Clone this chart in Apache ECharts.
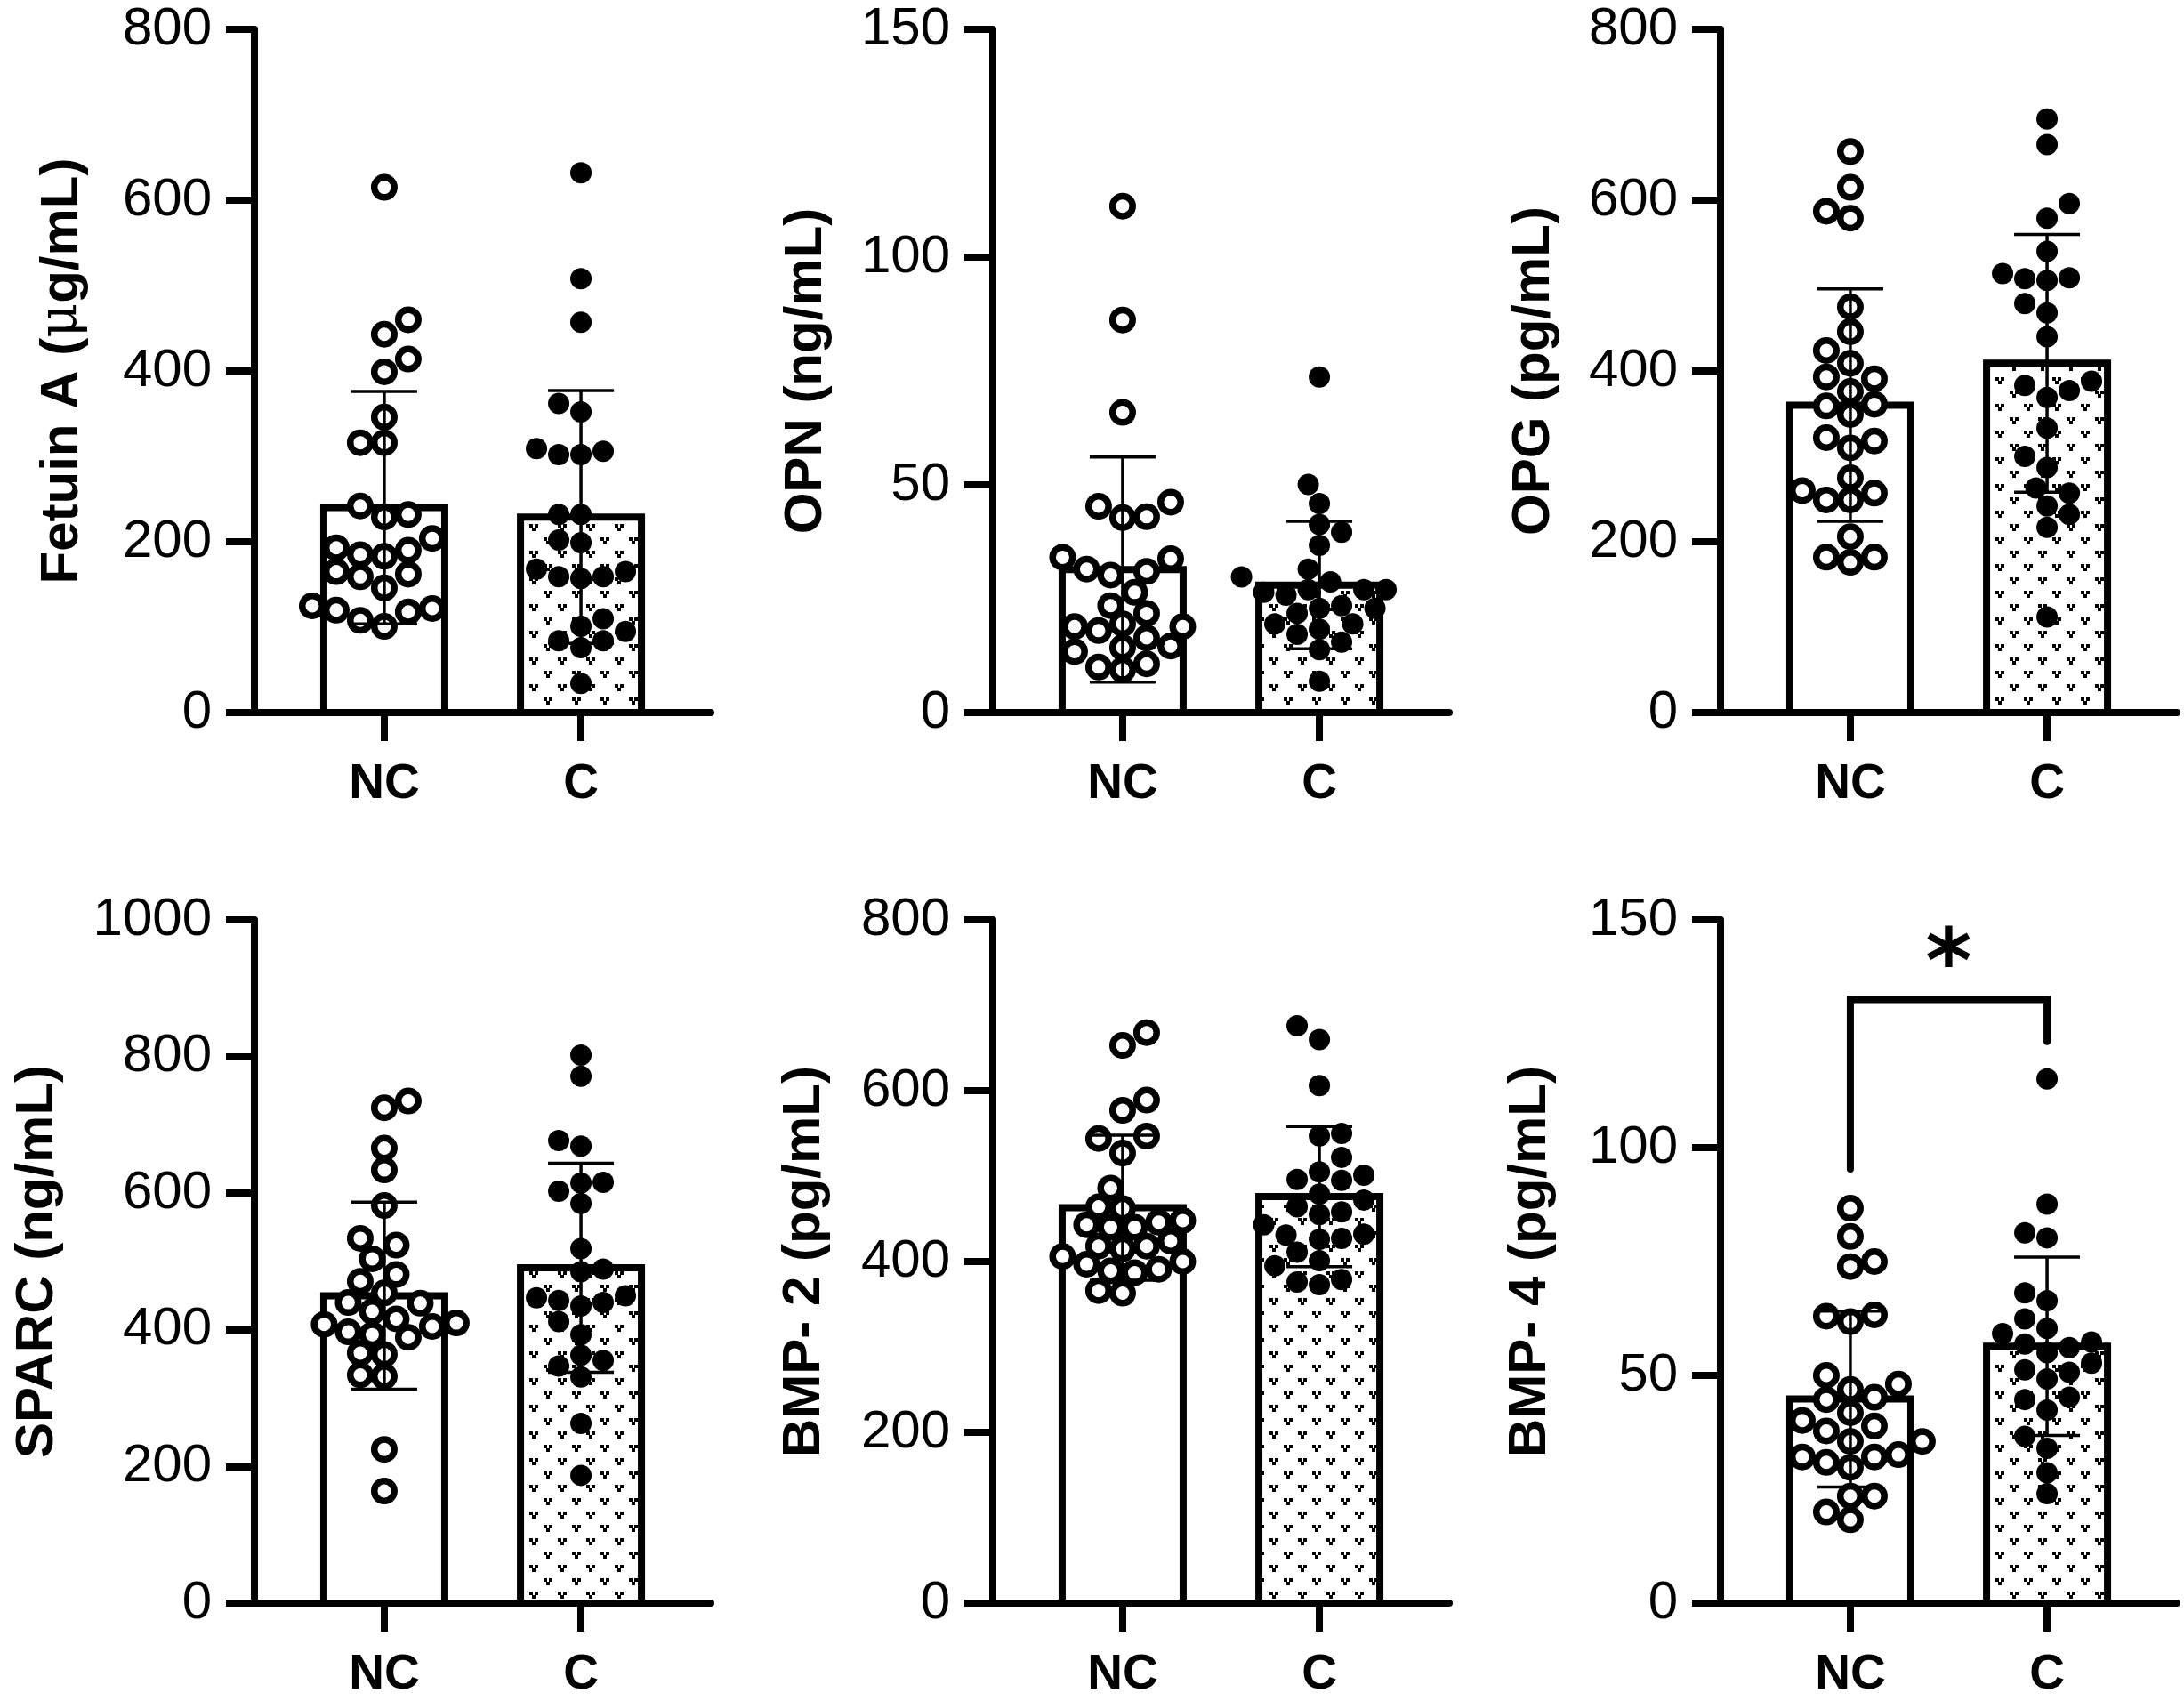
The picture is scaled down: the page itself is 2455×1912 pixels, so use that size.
<!DOCTYPE html>
<html>
<head>
<meta charset="utf-8">
<script src="https://cdn.jsdelivr.net/npm/echarts@6/dist/echarts.min.js"></script>
<style>
html,body{margin:0;padding:0;background:#fff;}
#chart{width:2455px;height:1912px;}
</style>
</head>
<body>
<div id="chart"></div>
<script>
// ---------- data ----------
const groups = ['NC', 'C'];

const fetuinNC = [615, 460, 443, 414, 399, 346, 316, 316, 242, 229, 232, 204, 183, 185, 193, 190, 159, 162, 165, 146, 125, 122, 118, 120, 108, 101];
const fetuinC  = [632, 508, 457, 362, 352, 302, 306, 309, 302, 232, 232, 199, 202, 159, 159, 165, 168, 157, 110, 101, 95, 84, 84, 76, 34];
const fetuinMean = [240, 229];
const fetuinSD   = [136, 148];

const opnNC = [111.2, 86.2, 65.9, 46.2, 45.3, 42.8, 43.0, 33.8, 34.1, 31.0, 30.2, 31.5, 26.4, 23.5, 21.8, 18.0, 18.9, 19.5, 18.9, 16.4, 13.4, 14.3, 14.6, 9.4, 10.7, 10.0];
const opnC  = [73.7, 50.1, 45.9, 41.3, 39.6, 36.7, 31.5, 29.8, 28.7, 27.0, 27.0, 27.0, 26.4, 25.8, 22.9, 23.5, 22.9, 21.8, 19.5, 19.5, 18.3, 17.2, 15.5, 13.8, 6.9];
const opnMean = [31.4, 28.0];
const opnSD   = [24.7, 14.0];

const opgNC = [657, 615, 579, 587, 475, 446, 424, 409, 391, 393, 376, 359, 361, 349, 322, 318, 310, 275, 257, 260, 249, 249, 206, 176, 182, 182];
const opgC  = [695, 665, 596, 579, 540, 509, 506, 508, 514, 479, 468, 440, 388, 383, 377, 369, 333, 300, 287, 263, 257, 232, 242, 217, 112];
const opgMean = [360, 409];
const opgSD   = [136, 151];

const sparcNC = [735, 725, 666, 634, 582, 534, 524, 504, 481, 471, 454, 439, 440, 427, 410, 416, 405, 408, 389, 393, 397, 364, 366, 332, 334, 225, 164];
const sparcC  = [802, 771, 677, 669, 615, 616, 603, 585, 519, 485, 489, 440, 443, 447, 450, 435, 412, 393, 347, 355, 363, 331, 263, 187];
const sparcMean = [450, 491];
const sparcSD   = [137, 153];

const bmp2NC = [668, 653, 589, 577, 547, 544, 527, 486, 464, 462, 440, 440, 443, 446, 448, 418, 415, 406, 418, 424, 400, 397, 389, 387, 391, 366, 363];
const bmp2C  = [676, 660, 606, 547, 550, 522, 505, 495, 496, 501, 479, 472, 464, 458, 455, 432, 427, 431, 443, 426, 401, 411, 395, 376, 379, 373];
const bmp2Mean = [463, 476];
const bmp2SD   = [85, 82];

const bmp4NC = [86.7, 80.5, 73.9, 75.0, 63.0, 63.3, 61.8, 50.0, 46.9, 48.1, 44.7, 45.2, 41.8, 40.1, 38.9, 37.8, 35.5, 35.5, 32.1, 32.6, 32.1, 29.8, 30.9, 23.5, 23.5, 18.3, 20.0];
const bmp4C  = [115.1, 87.6, 81.3, 80.2, 68.1, 66.4, 62.4, 60.3, 59.2, 57.3, 56.9, 56.1, 55.0, 52.7, 51.2, 50.7, 49.2, 44.7, 45.2, 42.4, 36.6, 34.0, 28.6, 24.0];
const bmp4Mean = [44.8, 56.4];
const bmp4SD   = [19.3, 19.6];

// significance bracket (BMP-4), in data units
const bracketNCEnd = 95.3;
const bracketTop = 132.5;
const bracketCEnd = 123.3;
const starLevel = 143.2;
const starText = '*';

const yTitles = ['Fetuin A ({mu|μ}g/mL)', 'OPN (ng/mL)', 'OPG (pg/mL)', 'SPARC (ng/mL)', 'BMP- 2 (pg/mL)', 'BMP- 4 (pg/mL)'];
const yMax = [800, 150, 800, 1000, 800, 150];
const yStep = [200, 50, 200, 200, 200, 50];

// ---------- layout ----------
const FONT = 'Liberation Sans, Arial, sans-serif';
const gridLefts = [286, 1116, 1934];
const gridTops = [33, 1034];
const gridW = 513, gridH = 768;
const xMin = -0.66, xMax = 1.66;
const barW = 136;

const panels = [
  {nc: fetuinNC, c: fetuinC, mean: fetuinMean, sd: fetuinSD, gap: 186},
  {nc: opnNC, c: opnC, mean: opnMean, sd: opnSD, gap: 180},
  {nc: opgNC, c: opgC, mean: opgMean, sd: opgSD, gap: 180},
  {nc: sparcNC, c: sparcC, mean: sparcMean, sd: sparcSD, gap: 214},
  {nc: bmp2NC, c: bmp2C, mean: bmp2Mean, sd: bmp2SD, gap: 182},
  {nc: bmp4NC, c: bmp4C, mean: bmp4Mean, sd: bmp4SD, gap: 184}
];

// dotted "v" fill pattern
function makePattern() {
  const cv = document.createElement('canvas');
  cv.width = 32; cv.height = 30;
  const g = cv.getContext('2d');
  g.fillStyle = '#fff'; g.fillRect(0, 0, 32, 30);
  g.fillStyle = '#000';
  function mark(cx, cy) {
    g.fillRect(cx - 5, cy - 4, 4, 4);
    g.fillRect(cx + 1, cy - 4, 4, 4);
    g.fillRect(cx - 2, cy, 4, 4);
  }
  mark(8, 8); mark(24, 23);
  return cv;
}
const patternCanvas = makePattern();

// simple beeswarm: spreads points horizontally so they don't overlap (pixel space)
function swarm(values, pxPerY, pxPerX, D) {
  const order = values.map((v, i) => i).sort((a, b) => values[a] - values[b]);
  const placed = [];
  const offs = new Array(values.length).fill(0);
  const step = D / 2;
  order.forEach((i, rank) => {
    const y = values[i] * pxPerY;
    const side = rank % 2 === 0 ? 1 : -1;
    for (let k = 0; k < 40; k++) {
      const m = k === 0 ? 0 : (k % 2 === 1 ? side * (k + 1) / 2 : -side * k / 2);
      const x = m * step;
      let ok = true;
      for (const p of placed) {
        const dx = x - p[0], dy = y - p[1];
        if (dx * dx + dy * dy < D * D * 0.8) { ok = false; break; }
      }
      if (ok) { placed.push([x, y]); offs[i] = x / pxPerX; break; }
    }
  });
  return offs;
}

const grids = [], xAxes = [], yAxes = [], series = [];
const pxPerX = gridW / (xMax - xMin);

panels.forEach((p, i) => {
  const col = i % 3, row = Math.floor(i / 3);
  grids.push({left: gridLefts[col], top: gridTops[row], width: gridW, height: gridH, containLabel: false});
  xAxes.push({
    type: 'value', gridIndex: i, min: xMin, max: xMax,
    splitLine: {show: false},
    axisLine: {show: true, onZero: false, lineStyle: {color: '#000', width: 8}},
    axisTick: {show: true, length: 32, lineStyle: {color: '#000', width: 8}, customValues: [0, 1]},
    axisLabel: {
      show: true, customValues: [0, 1], margin: 53,
      formatter: v => groups[Math.round(v)],
      color: '#000', fontFamily: FONT, fontWeight: 'bold', fontSize: 55
    }
  });
  yAxes.push({
    type: 'value', gridIndex: i, min: 0, max: yMax[i], interval: yStep[i],
    name: yTitles[i], nameLocation: 'middle', nameGap: p.gap, nameRotate: 90,
    nameTextStyle: {
      color: '#000', fontFamily: FONT, fontWeight: 'bold', fontSize: 60,
      rich: {mu: {fontFamily: 'DejaVu Serif, serif', fontWeight: 'normal', fontSize: 60, color: '#000'}}
    },
    splitLine: {show: false},
    axisLine: {show: true, onZero: false, lineStyle: {color: '#000', width: 8}},
    axisTick: {show: true, length: 32, lineStyle: {color: '#000', width: 8}},
    axisLabel: {color: '#000', fontFamily: FONT, fontSize: 60, margin: 48, formatter: v => String(v)}
  });

  const pxPerY = gridH / yMax[i];
  const offNC = swarm(p.nc, pxPerY, pxPerX, 27);
  const offC = swarm(p.c, pxPerY, pxPerX, 25);

  // bars
  series.push({
    type: 'custom', xAxisIndex: i, yAxisIndex: i, z: 1, silent: true,
    data: p.mean.map((m, g) => [g, m]),
    renderItem: (params, api) => {
      const g = api.value(0), m = api.value(1);
      const p0 = api.coord([g, 0]), p1 = api.coord([g, m]);
      return {
        type: 'rect',
        shape: {x: p0[0] - barW / 2, y: p1[1], width: barW, height: p0[1] - p1[1]},
        style: {
          fill: g === 0 ? '#fff' : {image: patternCanvas, repeat: 'repeat'},
          stroke: '#000', lineWidth: 8
        }
      };
    }
  });
  // open circles (NC)
  series.push({
    type: 'scatter', xAxisIndex: i, yAxisIndex: i, z: 3, silent: true,
    symbol: 'circle', symbolSize: 22.5,
    itemStyle: {color: '#fff', borderColor: '#000', borderWidth: 7.5, opacity: 1},
    data: p.nc.map((v, k) => [0 + offNC[k], v])
  });
  // filled circles (C)
  series.push({
    type: 'scatter', xAxisIndex: i, yAxisIndex: i, z: 3, silent: true,
    symbol: 'circle', symbolSize: 24,
    itemStyle: {color: '#000', opacity: 1},
    data: p.c.map((v, k) => [1 + offC[k], v])
  });
  // error bars (mean ± SD)
  series.push({
    type: 'custom', xAxisIndex: i, yAxisIndex: i, z: 4, silent: true,
    data: p.mean.map((m, g) => [g, m, p.sd[g]]),
    renderItem: (params, api) => {
      const g = api.value(0), m = api.value(1), s = api.value(2);
      const hi = api.coord([g, m + s]), lo = api.coord([g, m - s]);
      const cap = 37;
      const st = {stroke: '#000', lineWidth: 3.5};
      return {
        type: 'group',
        children: [
          {type: 'line', shape: {x1: hi[0], y1: hi[1], x2: lo[0], y2: lo[1]}, style: st},
          {type: 'line', shape: {x1: hi[0] - cap, y1: hi[1], x2: hi[0] + cap, y2: hi[1]}, style: st},
          {type: 'line', shape: {x1: lo[0] - cap, y1: lo[1], x2: lo[0] + cap, y2: lo[1]}, style: st}
        ]
      };
    }
  });
});

// significance bracket on BMP-4 panel
series.push({
  type: 'line', xAxisIndex: 5, yAxisIndex: 5, z: 5, silent: true,
  symbol: 'none', animation: false,
  lineStyle: {color: '#000', width: 8, cap: 'round', join: 'miter'},
  data: [[0, bracketNCEnd], [0, bracketTop], [1, bracketTop], [1, bracketCEnd]]
});
series.push({
  type: 'custom', xAxisIndex: 5, yAxisIndex: 5, z: 5, silent: true,
  data: [[0.5, starLevel]],
  renderItem: (params, api) => {
    const pt = api.coord([api.value(0), api.value(1)]);
    return {
      type: 'text',
      style: {
        text: starText, x: pt[0], y: pt[1] + 20,
        fontFamily: 'DejaVu Sans', fontWeight: 'bold', fontSize: 100,
        align: 'center', verticalAlign: 'middle', fill: '#000'
      }
    };
  }
});

const chart = echarts.init(document.getElementById('chart'), null, {renderer: 'canvas'});
chart.setOption({
  backgroundColor: '#fff',
  animation: false,
  grid: grids, xAxis: xAxes, yAxis: yAxes, series: series
});
</script>
</body>
</html>
